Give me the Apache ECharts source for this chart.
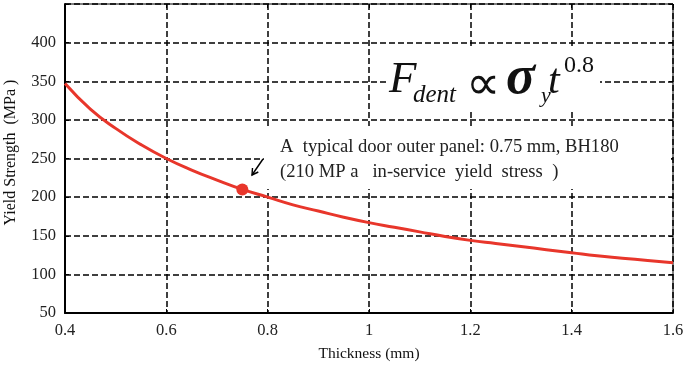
<!DOCTYPE html>
<html>
<head>
<meta charset="utf-8">
<script src="https://cdn.jsdelivr.net/npm/echarts@6/dist/echarts.min.js"></script>
<style>
  html, body { margin: 0; padding: 0; background: #fff; }
  #chart { width: 684px; height: 365px; }
</style>
</head>
<body>
<div id="chart"></div>
<script>
// Yield strength needed for equal dent resistance vs. sheet thickness
const thickness = [0.40, 0.45, 0.50, 0.55, 0.60, 0.65, 0.70, 0.75, 0.80, 0.85, 0.90, 0.95,
                   1.00, 1.05, 1.10, 1.15, 1.20, 1.25, 1.30, 1.35, 1.40, 1.45, 1.50, 1.55, 1.60];
const yieldStrength = [347, 314, 289, 268, 250, 235, 222, 210, 200, 190, 182, 174,
                       167, 161, 155, 149, 144, 140, 136, 132, 128, 124, 121, 118, 115];

// Typical door outer panel
const panelThickness = [0.75];
const panelYield = [210];

const xTicks = [0.4, 0.6, 0.8, 1.0, 1.2, 1.4, 1.6];
const yTicks = [50, 100, 150, 200, 250, 300, 350, 400];

const serif = '"Liberation Serif", "Times New Roman", serif';
const red = '#e8362b';

const chart = echarts.init(document.getElementById('chart'), null, { renderer: 'canvas' });

const gridDash = { color: '#000', width: 1.5, type: [6, 3] };

chart.setOption({
  animation: false,
  backgroundColor: '#fff',
  grid: {
    left: 65, right: 11, top: 4, bottom: 52,
    outerBoundsMode: 'none', containLabel: false,
    show: true, borderColor: '#000', borderWidth: 1, backgroundColor: 'transparent'
  },
  xAxis: [{
    type: 'value', min: 0.4, max: 1.6, interval: 0.2,
    name: 'Thickness (mm)', nameLocation: 'middle', nameGap: 33,
    nameTextStyle: { fontFamily: serif, fontSize: 15.5, color: '#111' },
    axisLine: { show: true, lineStyle: { color: '#000', width: 2 } },
    axisTick: { show: true, inside: true, length: 4, lineStyle: { color: '#000' } },
    axisLabel: {
      fontFamily: serif, fontSize: 16.5, color: '#222', margin: 9,
      formatter: v => (xTicks.some(t => Math.abs(t - v) < 1e-6) ? (Math.abs(v - 1) < 1e-6 ? '1' : v.toFixed(1)) : '')
    },
    splitLine: { show: true, lineStyle: gridDash }
  }, {
    type: 'value', min: 0.4, max: 1.6, interval: 0.2, position: 'top',
    axisLine: { show: false }, axisLabel: { show: false },
    axisTick: { show: true, inside: true, length: 4, lineStyle: { color: '#000' } },
    splitLine: { show: false }
  }],
  yAxis: [{
    type: 'value', min: 50, max: 450, interval: 50,
    name: 'Yield Strength  (MPa )', nameLocation: 'middle', nameGap: 46, nameRotate: 90,
    nameTextStyle: { fontFamily: serif, fontSize: 16, color: '#111', padding: [0, 0, 0, 12] },
    axisLine: { show: true, lineStyle: { color: '#000', width: 2 } },
    axisTick: { show: true, inside: true, length: 4, lineStyle: { color: '#000' } },
    axisLabel: {
      fontFamily: serif, fontSize: 16.5, color: '#222', margin: 9,
      formatter: v => (yTicks.indexOf(v) >= 0 ? String(v) : '')
    },
    splitLine: { show: true, lineStyle: gridDash }
  }, {
    type: 'value', min: 50, max: 450, interval: 50, position: 'right',
    axisLine: { show: false }, axisLabel: { show: false },
    axisTick: { show: true, inside: true, length: 4, lineStyle: { color: '#000' } },
    splitLine: { show: false }
  }],
  graphic: [
    // clear boxes behind the formula and the note
    { type: 'rect', z: 1, shape: { x: 388, y: 48, width: 212, height: 62 }, style: { fill: '#fff' } },
    { type: 'rect', z: 1, shape: { x: 264, y: 126, width: 407, height: 63 }, style: { fill: '#fff' } },
    // F_dent ∝ σ_y t^0.8
    { type: 'text', z: 5, x: 389, y: 80, style: { text: 'F', font: 'italic 45px ' + serif, fill: '#111', verticalAlign: 'middle' } },
    { type: 'text', z: 5, x: 413, y: 95, style: { text: 'dent', font: 'italic 25px ' + serif, fill: '#111', verticalAlign: 'middle' } },
    { type: 'text', z: 5, x: 466, y: 86, style: { text: '\u221D', font: '48px ' + serif, fill: '#111', verticalAlign: 'middle' } },
    { type: 'text', z: 5, x: 506, y: 79, style: { text: '\u03C3', font: 'italic bold 54px ' + serif, fill: '#111', verticalAlign: 'middle' } },
    { type: 'text', z: 5, x: 541, y: 96, style: { text: 'y', font: 'italic 22px ' + serif, fill: '#111', verticalAlign: 'middle' } },
    { type: 'text', z: 5, x: 548, y: 82, style: { text: 't', font: 'italic 42px ' + serif, fill: '#111', verticalAlign: 'middle' } },
    { type: 'text', z: 5, x: 564, y: 66, style: { text: '0.8', font: '24px ' + serif, fill: '#111', verticalAlign: 'middle' } },
    // note
    { type: 'text', z: 5, x: 280, y: 147, style: { text: 'A  typical door outer panel: 0.75 mm, BH180', font: '18.6px ' + serif, fill: '#222', verticalAlign: 'middle' } },
    { type: 'text', z: 5, x: 280, y: 172, style: { text: '(210 MP a   in-service  yield  stress  )', font: '18.6px ' + serif, fill: '#222', verticalAlign: 'middle' } },
    // arrow pointing to the panel point
    { type: 'line', z: 5, shape: { x1: 263, y1: 159, x2: 252, y2: 175 }, style: { stroke: '#000', lineWidth: 1.4 } },
    { type: 'polyline', z: 5, shape: { points: [[258.3, 172], [252, 175], [252.5, 168]] }, style: { stroke: '#000', lineWidth: 1.4, fill: null } }
  ],
  series: [{
    type: 'line', z: 3,
    data: thickness.map((t, i) => [t, yieldStrength[i]]),
    smooth: true, showSymbol: false,
    lineStyle: { color: red, width: 3 }
  }, {
    type: 'scatter', z: 4,
    data: panelThickness.map((t, i) => [t, panelYield[i]]),
    symbol: 'circle', symbolSize: 12,
    itemStyle: { color: red, opacity: 1 }
  }]
});
</script>
</body>
</html>
